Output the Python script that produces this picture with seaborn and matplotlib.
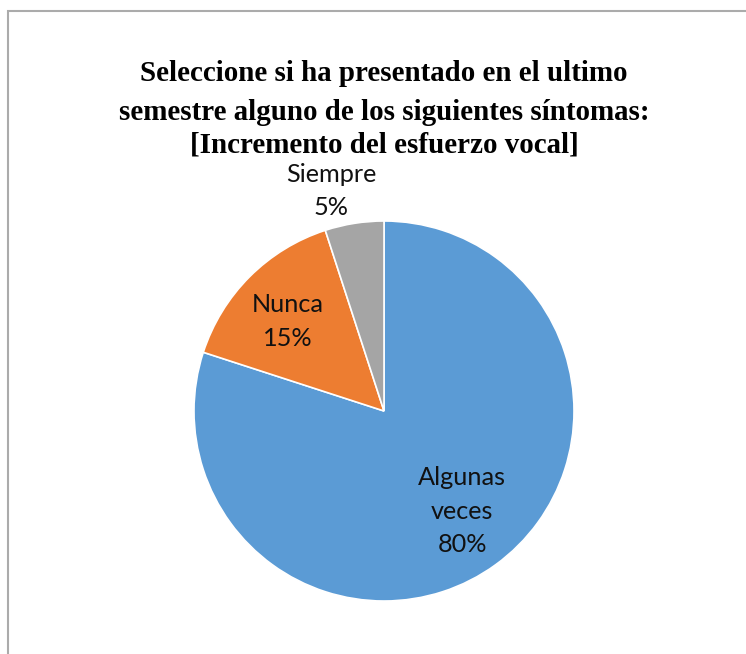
import numpy as np
import matplotlib
matplotlib.use("Agg")
import matplotlib.pyplot as plt
from matplotlib.patches import Rectangle
import seaborn as sns

categories = ["Algunas\nveces", "Nunca", "Siempre"]
values = [80, 15, 5]
pct_labels = ["80%", "15%", "5%"]
title_lines = [
    "Seleccione si ha presentado en el ultimo",
    "semestre alguno de los siguientes síntomas:",
    "[Incremento del esfuerzo vocal]",
]

sns.set_theme(style="white")
plt.rcParams["font.family"] = ["Lato", "DejaVu Sans"]

colors = ["#5B9BD5", "#ED7D31", "#A5A5A5"]

W, H = 746, 654
fig = plt.figure(figsize=(W / 100, H / 100), dpi=100)
fig.patch.set_facecolor("white")
ax = fig.add_axes([0, 0, 1, 1])

cx, cy, r = 384, H - 411, 190
wedges, _ = ax.pie(values, colors=colors, startangle=90, counterclock=False,
                   center=(cx, cy), radius=r,
                   wedgeprops=dict(edgecolor="white", linewidth=1.2))
ax.set_xlim(0, W)
ax.set_ylim(0, H)
ax.set_aspect("equal")
ax.axis("off")

# label layout: (distance as fraction of radius, angle tweak in degrees)
layout = [(0.67, 2.0), (0.69, 2.0), (1.19, 4.5)]
for w, cat, pct, (d, dt) in zip(wedges, categories, pct_labels, layout):
    ang = np.deg2rad((w.theta1 + w.theta2) / 2 + dt)
    x = cx + r * d * np.cos(ang)
    y = cy + r * d * np.sin(ang)
    ax.text(x, y, f"{cat}\n{pct}", ha="center", va="center",
            fontsize=18.2, color="#111111", linespacing=1.55)

title_y = [81, 120, 152]
for line, yb in zip(title_lines, title_y):
    fig.text(384 / W, 1 - yb / H, line, ha="center", va="baseline",
             fontsize=20.9, fontweight="bold", family="Liberation Serif",
             color="black")

fig.add_artist(Rectangle((8 / W, -0.1), 1.2, 1 - 11 / H + 0.1,
                         transform=fig.transFigure, fill=False,
                         edgecolor="#ABABAB", linewidth=1.5))

fig.savefig("out.png", dpi=100, facecolor="white")
